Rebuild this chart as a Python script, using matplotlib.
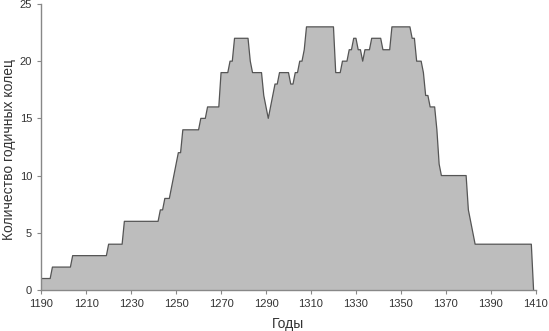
import matplotlib
matplotlib.use("Agg")
import matplotlib.pyplot as plt
import numpy as np

# number of tree rings per year, 1190-1409
years = np.arange(1190, 1410)
counts = [
    1, 1, 1, 1, 1, 2, 2, 2, 2, 2,            # 1190
    2, 2, 2, 2, 3, 3, 3, 3, 3, 3,            # 1200
    3, 3, 3, 3, 3, 3, 3, 3, 3, 3,            # 1210
    4, 4, 4, 4, 4, 4, 4, 6, 6, 6,            # 1220
    6, 6, 6, 6, 6, 6, 6, 6, 6, 6,            # 1230
    6, 6, 6, 7, 7, 8, 8, 8, 9, 10,           # 1240
    11, 12, 12, 14, 14, 14, 14, 14, 14, 14,  # 1250
    14, 15, 15, 15, 16, 16, 16, 16, 16, 16,  # 1260
    19, 19, 19, 19, 20, 20, 22, 22, 22, 22,  # 1270
    22, 22, 22, 20, 19, 19, 19, 19, 19, 17,  # 1280
    16, 15, 16, 17, 18, 18, 19, 19, 19, 19,  # 1290
    19, 18, 18, 19, 19, 20, 20, 21, 23, 23,  # 1300
    23, 23, 23, 23, 23, 23, 23, 23, 23, 23,  # 1310
    23, 19, 19, 19, 20, 20, 20, 21, 21, 22,  # 1320
    22, 21, 21, 20, 21, 21, 21, 22, 22, 22,  # 1330
    22, 22, 21, 21, 21, 21, 23, 23, 23, 23,  # 1340
    23, 23, 23, 23, 23, 22, 22, 20, 20, 20,  # 1350
    19, 17, 17, 16, 16, 16, 14, 11, 10, 10,  # 1360
    10, 10, 10, 10, 10, 10, 10, 10, 10, 10,  # 1370
    7, 6, 5, 4, 4, 4, 4, 4, 4, 4,            # 1380
    4, 4, 4, 4, 4, 4, 4, 4, 4, 4,            # 1390
    4, 4, 4, 4, 4, 4, 4, 4, 4, 0,            # 1400
]
xticks = list(range(1190, 1411, 20))
yticks = [0, 5, 10, 15, 20, 25]

plt.rcParams['font.family'] = ['Liberation Sans', 'DejaVu Sans']

fig = plt.figure(figsize=(5.49, 3.31), dpi=100)
ax = fig.add_axes([0.075, 0.124, 0.901, 0.864])

ax.fill_between(years, counts, 0, facecolor='#bdbdbd', edgecolor='none')
ax.plot(years, counts, color='#555555', lw=0.9)

ax.set_xlim(1190, 1410)
ax.set_ylim(0, 25)
ax.set_xticks(xticks)
ax.set_yticks(yticks)

for s in ['top', 'right']:
    ax.spines[s].set_visible(False)
for s in ['left', 'bottom']:
    ax.spines[s].set_color('#888888')
    ax.spines[s].set_linewidth(1.0)
ax.tick_params(colors='#888888', labelcolor='#333333', labelsize=8, length=3, width=0.8)

ax.set_xlabel('Годы', fontsize=10, color='#333333', labelpad=6)
ax.set_ylabel('Количество годичных колец', fontsize=10, color='#333333')
ax.yaxis.set_label_coords(-0.05, 0.49)

fig.savefig('out.png', dpi=100)
